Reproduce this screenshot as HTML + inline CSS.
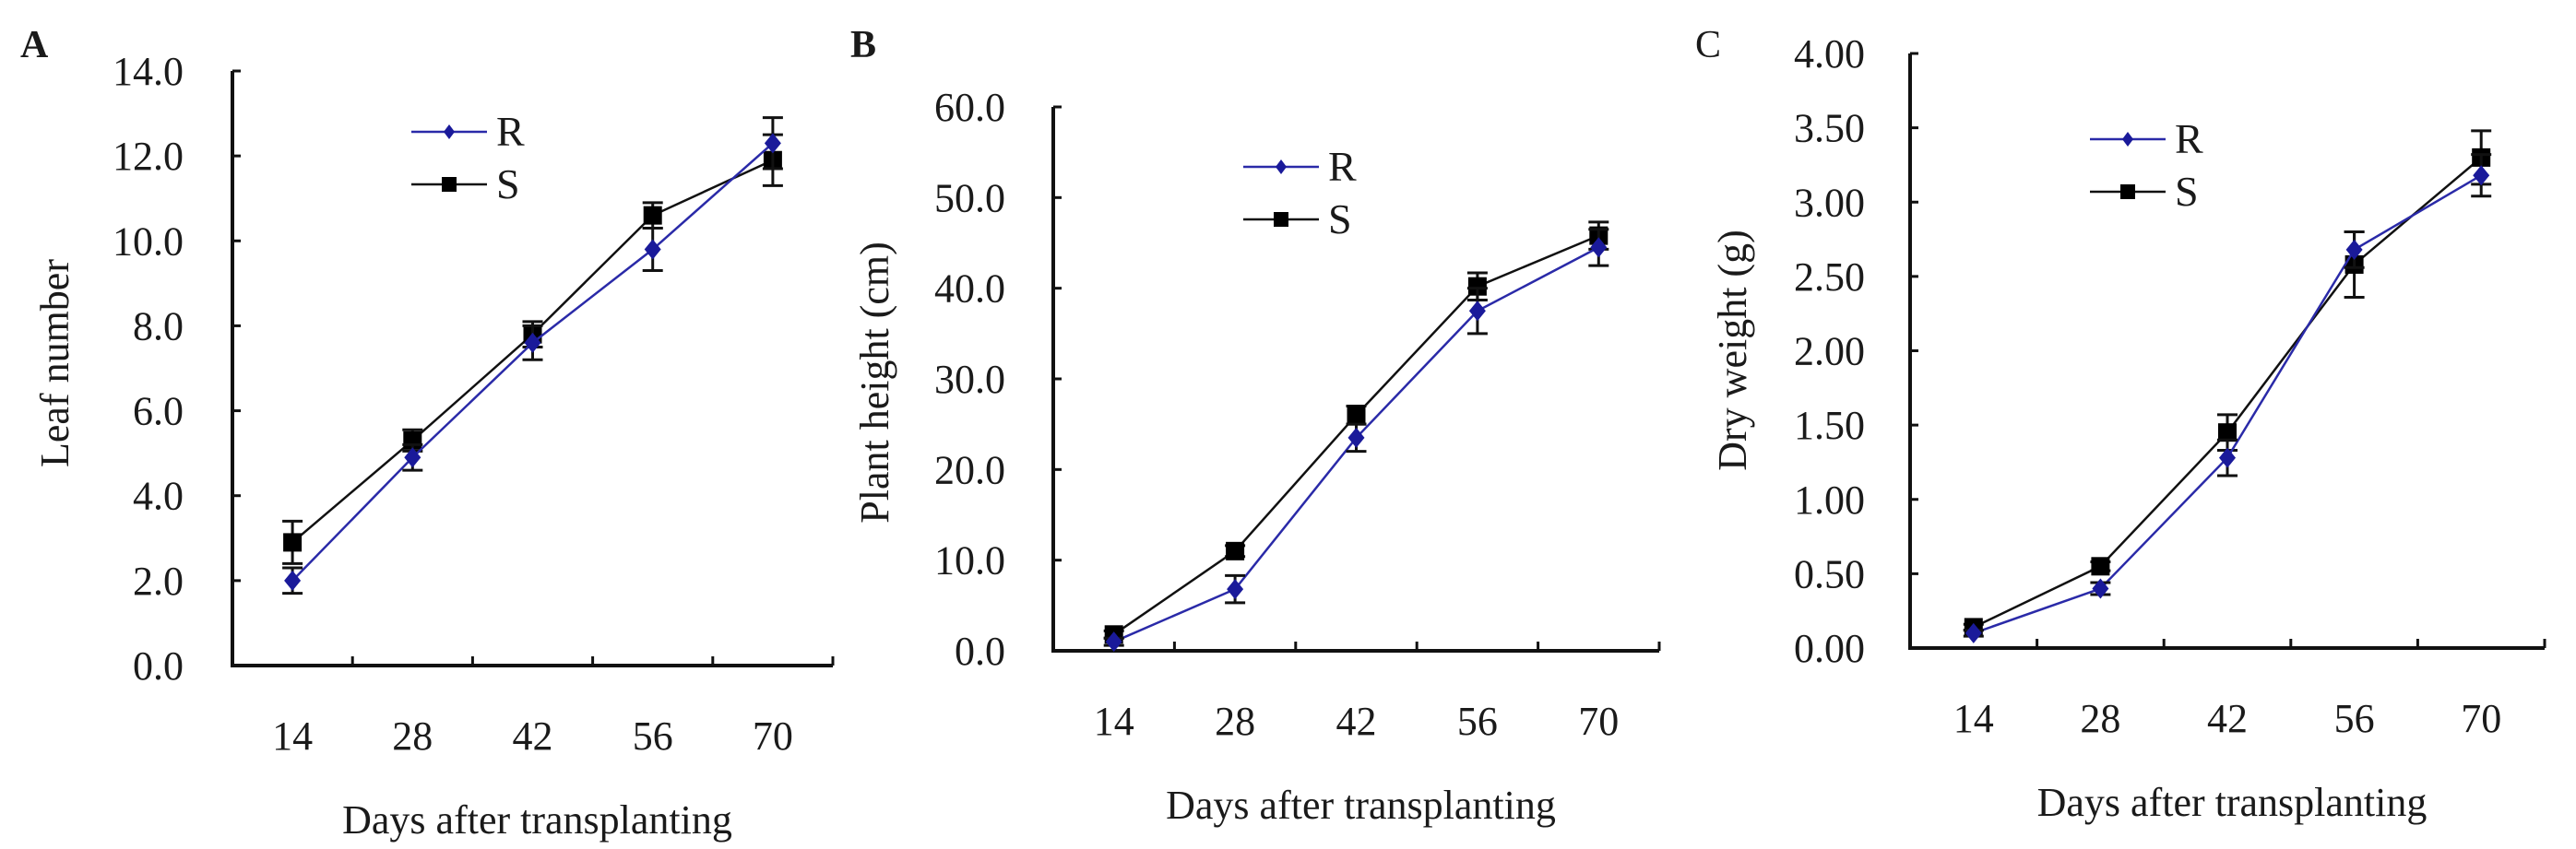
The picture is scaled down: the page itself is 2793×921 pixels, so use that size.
<!DOCTYPE html>
<html><head><meta charset="utf-8"><style>
html,body{margin:0;padding:0;background:#fff;}
svg{display:block;}
text{font-family:"Liberation Serif",serif;fill:#1a1a1a;}
</style></head><body>
<svg id="fig" width="2793" height="921" viewBox="0 0 2793 921" xmlns="http://www.w3.org/2000/svg"></svg>
<script>
const categories = ["14","28","42","56","70"];
const aR = [2.0, 4.9, 7.6, 9.8, 12.3];
const aRerr = [0.3, 0.3, 0.4, 0.5, 0.6];
const aS = [2.9, 5.3, 7.8, 10.6, 11.9];
const aSerr = [0.5, 0.25, 0.3, 0.3, 0.6];
const aTicks = ["0.0","2.0","4.0","6.0","8.0","10.0","12.0","14.0"];
const bR = [1.0, 6.8, 23.5, 37.5, 44.5];
const bRerr = [0.4, 1.5, 1.5, 2.5, 2.0];
const bS = [1.8, 11.0, 26.0, 40.2, 45.8];
const bSerr = [0.4, 0.6, 1.0, 1.5, 1.5];
const bTicks = ["0.0","10.0","20.0","30.0","40.0","50.0","60.0"];
const cR = [0.10, 0.40, 1.28, 2.68, 3.18];
const cRerr = [0.02, 0.04, 0.12, 0.12, 0.14];
const cS = [0.14, 0.55, 1.45, 2.58, 3.30];
const cSerr = [0.02, 0.03, 0.12, 0.22, 0.18];
const cTicks = ["0.00","0.50","1.00","1.50","2.00","2.50","3.00","3.50","4.00"];

const NS="http://www.w3.org/2000/svg";
const svg=document.getElementById('fig');
function mk(tag,attrs,parent){const e=document.createElementNS(NS,tag);for(const k in attrs)e.setAttribute(k,attrs[k]);(parent||svg).appendChild(e);return e;}
const FS=44;
const panels=[
 {id:'a',letter:'A',lx:22,ly:62,bold:true,x0:252,x1:903,yTop:77,yBot:722,max:14,ticks:aTicks,R:aR,Re:aRerr,S:aS,Se:aSerr,title:'Leaf number',tx:59,ty:394,legX:446,legY:143,tickRight:199},
 {id:'b',letter:'B',lx:922,ly:62,bold:true,x0:1142,x1:1799,yTop:116,yBot:706,max:60,ticks:bTicks,R:bR,Re:bRerr,S:bS,Se:bSerr,title:'Plant height (cm)',tx:948,ty:415,legX:1348,legY:181,tickRight:1090},
 {id:'c',letter:'C',lx:1838,ly:62,bold:false,x0:2071,x1:2759,yTop:58,yBot:703,max:4,ticks:cTicks,R:cR,Re:cRerr,S:cS,Se:cSerr,title:'Dry weight (g)',tx:1878,ty:380,legX:2266,legY:151,tickRight:2022}
];

panels.forEach(p=>{
  const g=mk('g',{});
  
  
  const n=categories.length, step=(p.x1-p.x0)/n;
  const xs=i=>p.x0+step*(i+0.5);
  const ys=v=>p.yBot-(v/p.max)*(p.yBot-p.yTop);
  const L=mk('text',{x:p.lx,y:p.ly,'font-size':42,'font-weight':p.bold?'bold':'normal'},g);L.textContent=p.letter;
  
  const ax=mk('path',{d:`M${p.x0} ${p.yTop}V${p.yBot}H${p.x1}`,stroke:'#111','stroke-width':4,fill:'none'},g);
  
  p.ticks.forEach((t,i)=>{
    const v=p.max*i/(p.ticks.length-1), y=ys(v);
    mk('line',{x1:p.x0,x2:p.x0+9,y1:y,y2:y,stroke:'#111','stroke-width':3},g);
    const tx=mk('text',{x:p.tickRight,y:y+15,'font-size':FS,'text-anchor':'end'},g);tx.textContent=t;
    
  });
  for(let i=1;i<=n;i++){const x=p.x0+step*i;mk('line',{x1:x,x2:x,y1:p.yBot,y2:p.yBot-10,stroke:'#111','stroke-width':3},g);}
  categories.forEach((c,i)=>{
    const tx=mk('text',{x:xs(i),y:p.yBot+91,'font-size':FS,'text-anchor':'middle'},g);tx.textContent=c;
    
  });
  const yt=mk('text',{x:0,y:0,'font-size':FS,'text-anchor':'middle',transform:`translate(${p.tx+15},${p.ty}) rotate(-90)`},g);yt.textContent=p.title;
  
  const xt=mk('text',{x:(p.x0+p.x1)/2+5,y:p.yBot+182,'font-size':FS,'text-anchor':'middle'},g);xt.textContent='Days after transplanting';
  
  const series=[{k:'S',v:p.S,e:p.Se,col:'#111',w:2.5},{k:'R',v:p.R,e:p.Re,col:'#2a2aa8',w:2.5}];
  series.forEach(s=>{
    const sg=mk('g',{},g);
    
    mk('polyline',{points:s.v.map((v,i)=>xs(i)+','+ys(v)).join(' '),fill:'none',stroke:s.col,'stroke-width':s.w},sg);
    s.v.forEach((v,i)=>{
      const x=xs(i),y=ys(v),t=ys(v+s.e[i]),b=ys(v-s.e[i]);
      const eb=mk('path',{d:`M${x} ${t}V${b}M${x-11} ${t}H${x+11}M${x-11} ${b}H${x+11}`,stroke:'#111','stroke-width':3,fill:'none'},sg);
      
      let m;
      if(s.k==='S') m=mk('rect',{x:x-10,y:y-10,width:20,height:20,fill:'#000'},sg);
      else m=mk('path',{d:`M${x} ${y-11}L${x+9} ${y}L${x} ${y+11}L${x-9} ${y}Z`,fill:'#1a1a9a'},sg);
      
    });
  });
  const lg=mk('g',{},g);
  [['R','#2a2aa8',p.legY],['S','#111',p.legY+57]].forEach(([k,c,y])=>{
    const e=mk('g',{},lg);
    mk('line',{x1:p.legX,x2:p.legX+82,y1:y,y2:y,stroke:c,'stroke-width':2.5},e);
    const cx=p.legX+41;
    if(k==='S') mk('rect',{x:cx-8,y:y-8,width:16,height:16,fill:'#000'},e);
    else mk('path',{d:`M${cx} ${y-8}L${cx+6} ${y}L${cx} ${y+8}L${cx-6} ${y}Z`,fill:'#1a1a9a'},e);
    const t=mk('text',{x:p.legX+92,y:y+15,'font-size':46},e);t.textContent=k;
  });
});
</script>
</body></html>
